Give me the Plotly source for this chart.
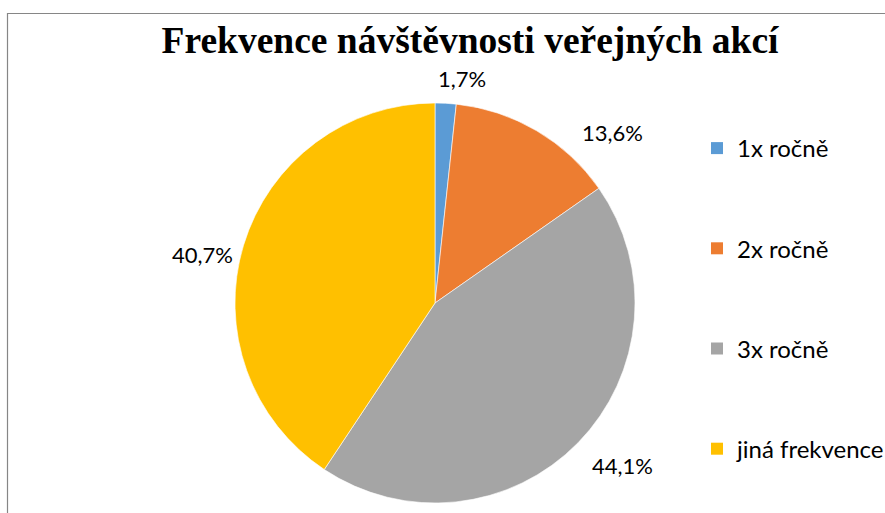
import math
import plotly.graph_objects as go

# ---- data ----
categories = ["1x ročně", "2x ročně", "3x ročně", "jiná frekvence"]
values = [1.7, 13.6, 44.1, 40.7]
value_labels = ["1,7%", "13,6%", "44,1%", "40,7%"]
colors = ["#5B9BD5", "#ED7D31", "#A5A5A5", "#FFC000"]
title_text = "Frekvence návštěvnosti veřejných akcí"

# ---- layout / style constants ----
W, H = 885, 513
CX, CY, R = 435, 303, 200          # pie centre / radius in pixels (y from top)
label_dist = [226, 246, 248, 238]   # label centre distance from pie centre (best-fit)
label_angle_nudge = [3.7, 15.7, -3.5, -5.0]   # best-fit angular nudges (deg)
label_font = dict(family="Lato, Carlito, sans-serif", size=22, color="#000000")
legend_font = dict(family="Lato, Carlito, sans-serif", size=24, color="#000000")

fig = go.Figure()
fig.add_trace(go.Pie(
    labels=categories, values=values, sort=False, direction="clockwise",
    rotation=0, textinfo="none", hoverinfo="label+percent",
    marker=dict(colors=colors, line=dict(color="white", width=0.6)),
    domain=dict(x=[(CX - R) / W, (CX + R) / W], y=[(H - CY - R) / H, (H - CY + R) / H]),
    showlegend=False,
))

# legend entries as dummy traces so item spacing can match
for i, (c, col) in enumerate(zip(categories, colors)):
    fig.add_trace(go.Scatter(
        x=[None], y=[None], mode="markers", name=c, legendgroup=f"g{i}",
        marker=dict(symbol="square", size=14, color=col),
    ))

# value labels positioned from slice mid-angles
total = sum(values)
cum = 0.0
annotations = []
for v, txt, nudge, d in zip(values, value_labels, label_angle_nudge, label_dist):
    mid = (cum + v / 2) / total * 360 + nudge
    cum += v
    a = math.radians(mid)
    px = CX + d * math.sin(a)
    py = CY - d * math.cos(a)
    annotations.append(dict(
        x=px / W, y=1 - py / H, xref="paper", yref="paper", text=txt,
        showarrow=False, xanchor="center", yanchor="middle", font=label_font,
    ))

fig.update_layout(
    width=W, height=H,
    margin=dict(l=0, r=0, t=0, b=0, autoexpand=False),
    paper_bgcolor="white", plot_bgcolor="white",
    title=dict(text="<b>" + title_text + "</b>", x=470 / W, xanchor="center",
               y=1 - 40 / H, yanchor="middle",
               font=dict(family="Liberation Serif, Times New Roman, serif", size=37.5, color="#000000")),
    xaxis=dict(visible=False), yaxis=dict(visible=False),
    legend=dict(x=697 / W, xanchor="left", y=1 - 126 / H, yanchor="top",
                font=legend_font, tracegroupgap=66, itemsizing="constant",
                bgcolor="rgba(0,0,0,0)"),
    annotations=annotations,
    shapes=[dict(type="rect", xref="paper", yref="paper",
                 x0=7.5 / W, x1=1.05, y0=-0.05, y1=1 - 13.5 / H,
                 line=dict(color="#868686", width=1.2), fillcolor="rgba(0,0,0,0)")],
)

fig.write_html(
    "out.html",
    config={"displayModeBar": False},
    post_script="document.body.style.margin='0';document.body.style.padding='0';"
                "document.body.style.overflow='hidden';",
)
